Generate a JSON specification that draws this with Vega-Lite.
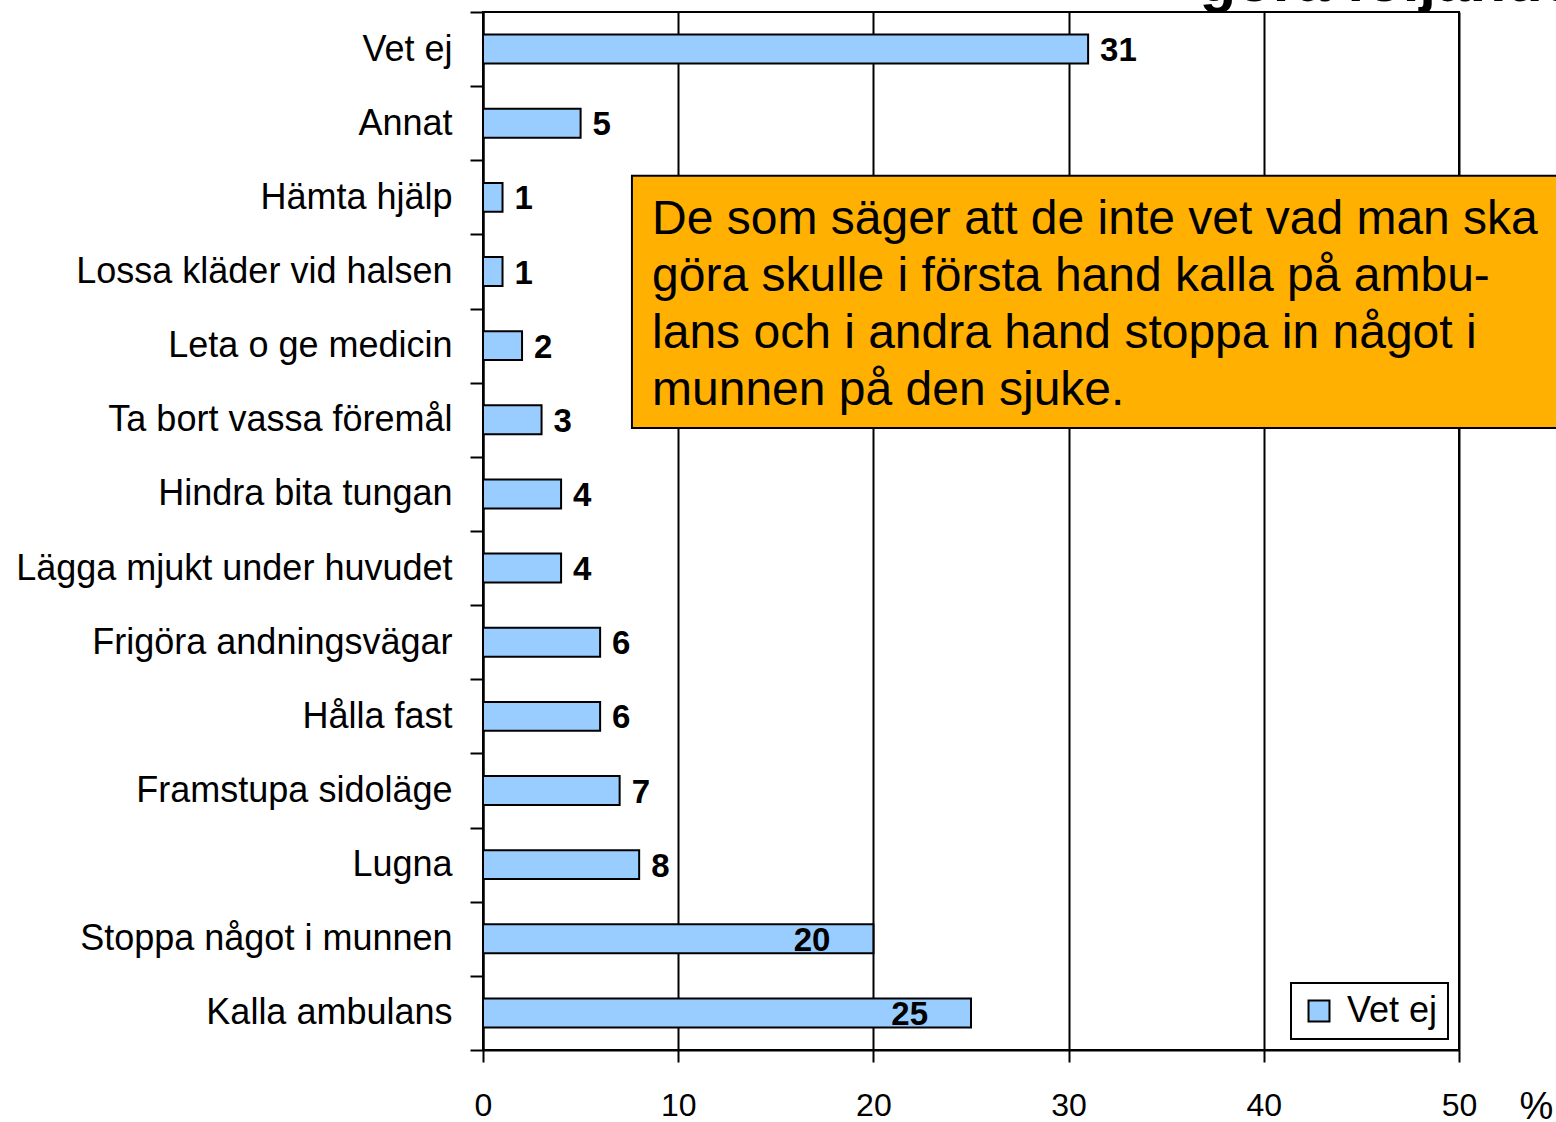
{
  "$schema": "https://vega.github.io/schema/vega-lite/v6.json",
  "width": 976,
  "height": 1038,
  "autosize": {"type": "none"},
  "padding": {"left": 483, "top": 12, "right": 97, "bottom": 72},
  "background": "white",
  "config": {
    "view": {"stroke": "black", "strokeWidth": 2},
    "font": "Liberation Sans",
    "legend": {
      "orient": "bottom-right",
      "offset": 11,
      "strokeColor": "black",
      "strokeWidth": 2,
      "fillColor": "white",
      "padding": 10,
      "labelFontSize": 36,
      "labelFont": "Liberation Sans",
      "labelColor": "black",
      "symbolType": "square",
      "symbolSize": 440,
      "symbolStrokeColor": "black",
      "symbolStrokeWidth": 2,
      "symbolFillColor": "#99CCFF",
      "labelOffset": 10
    }
  },
  "datasets": {
    "bars": [
      {"svar": "Vet ej", "procent": 31},
      {"svar": "Annat", "procent": 5},
      {"svar": "Hämta hjälp", "procent": 1},
      {"svar": "Lossa kläder vid halsen", "procent": 1},
      {"svar": "Leta o ge medicin", "procent": 2},
      {"svar": "Ta bort vassa föremål", "procent": 3},
      {"svar": "Hindra bita tungan", "procent": 4},
      {"svar": "Lägga mjukt under huvudet", "procent": 4},
      {"svar": "Frigöra andningsvägar", "procent": 6},
      {"svar": "Hålla fast", "procent": 6},
      {"svar": "Framstupa sidoläge", "procent": 7},
      {"svar": "Lugna", "procent": 8},
      {"svar": "Stoppa något i munnen", "procent": 20},
      {"svar": "Kalla ambulans", "procent": 25}
    ],
    "notes": [
      {"kind": "box", "text": "De som säger att de inte vet vad man ska\ngöra skulle i första hand kalla på ambu-\nlans och i andra hand stoppa in något i\nmunnen på den sjuke."},
      {"kind": "title", "text": "göra följande"}
    ]
  },
  "layer": [
    {
      "data": {"name": "bars"},
      "encoding": {
        "y": {
          "field": "svar",
          "type": "nominal",
          "sort": null,
          "scale": {"paddingInner": 0, "paddingOuter": 0},
          "axis": {
            "title": null,
            "labelFontSize": 36,
            "labelFont": "Liberation Sans",
            "labelColor": "black",
            "labelLimit": 600,
            "labelPadding": 18,
            "tickSize": 13,
            "tickWidth": 2,
            "tickColor": "black",
            "domainColor": "black",
            "domainWidth": 2,
            "tickBand": "extent"
          }
        },
        "x": {
          "field": "procent",
          "type": "quantitative",
          "scale": {"domain": [0, 50], "nice": false},
          "axis": {
            "values": [0, 10, 20, 30, 40, 50],
            "grid": true,
            "gridColor": "black",
            "gridWidth": 2,
            "gridOpacity": 1,
            "tickSize": 12,
            "tickWidth": 2,
            "tickColor": "black",
            "domainColor": "black",
            "domainWidth": 2,
            "labelFontSize": 32,
            "labelFont": "Liberation Sans",
            "labelColor": "black",
            "labelPadding": 28,
            "labelFlush": false,
            "labelOverlap": false,
            "title": "%",
            "titleFontSize": 38,
            "titleFont": "Liberation Sans",
            "titleFontWeight": "normal",
            "titleColor": "black",
            "titleX": 1053,
            "titleY": 68,
            "titleAlign": "center",
            "titleBaseline": "alphabetic"
          }
        }
      },
      "layer": [
        {
          "mark": {"type": "bar", "height": {"band": 0.39}, "stroke": "black", "strokeWidth": 2},
          "encoding": {
            "color": {
              "datum": "Vet ej",
              "type": "nominal",
              "scale": {"range": ["#99CCFF"]},
              "legend": {"title": null}
            }
          }
        },
        {
          "transform": [{"filter": "datum.procent < 20 || datum.procent > 30"}],
          "mark": {"type": "text", "align": "left", "baseline": "middle", "dx": 12, "dy": 2, "fontSize": 33, "fontWeight": "bold", "font": "Liberation Sans", "color": "black"},
          "encoding": {"text": {"field": "procent", "type": "quantitative"}}
        },
        {
          "transform": [{"filter": "datum.procent >= 20 && datum.procent <= 30"}],
          "mark": {"type": "text", "align": "right", "baseline": "middle", "dx": -43, "dy": 2, "fontSize": 33, "fontWeight": "bold", "font": "Liberation Sans", "color": "black"},
          "encoding": {"text": {"field": "procent", "type": "quantitative"}}
        }
      ]
    },
    {
      "data": {"name": "notes"},
      "layer": [
        {
          "transform": [{"filter": "datum.kind == 'box'"}],
          "mark": {"type": "rect", "fill": "#FFB000", "stroke": "black", "strokeWidth": 2},
          "encoding": {
            "x": {"datum": 7.63, "type": "quantitative", "scale": {"domain": [0, 50], "nice": false}},
            "x2": {"datum": 58},
            "y": {"datum": 2.21, "type": "quantitative", "scale": {"domain": [0, 14], "reverse": true, "nice": false, "zero": false}, "axis": null},
            "y2": {"datum": 5.61}
          }
        },
        {
          "transform": [{"filter": "datum.kind == 'box'"}],
          "mark": {"type": "text", "align": "left", "baseline": "alphabetic", "fontSize": 48, "lineHeight": 57, "lineBreak": "\n", "font": "Liberation Sans", "color": "black"},
          "encoding": {
            "x": {"datum": 8.66, "type": "quantitative"},
            "y": {"datum": 2.99, "type": "quantitative", "axis": null},
            "text": {"field": "text", "type": "nominal"}
          }
        },
        {
          "transform": [{"filter": "datum.kind == 'title'"}],
          "mark": {"type": "text", "align": "left", "baseline": "alphabetic", "fontSize": 60, "fontWeight": "bold", "font": "Liberation Sans", "color": "black"},
          "encoding": {
            "x": {"datum": 36.7, "type": "quantitative"},
            "y": {"datum": -0.15, "type": "quantitative", "axis": null},
            "text": {"field": "text", "type": "nominal"}
          }
        }
      ]
    }
  ],
  "resolve": {"scale": {"y": "independent"}, "axis": {"y": "independent"}}
}
